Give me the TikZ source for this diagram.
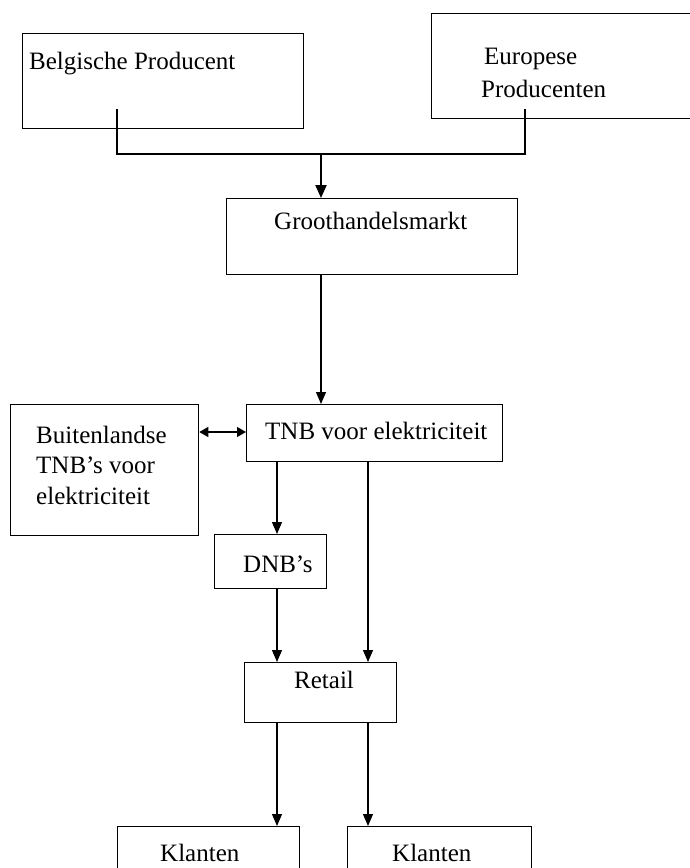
\documentclass[tikz,border=0pt]{standalone}
\usepackage{fontspec}
\setmainfont{Liberation Serif}
\usetikzlibrary{arrows.meta, positioning}
\tikzstyle{arrow} = [line width=1.1pt, -{Triangle[length=12pt, width=10pt]}]
\tikzstyle{conn} = [line width=1.2pt]
\tikzstyle{txt} = [anchor=base west, inner sep=0pt, font=\fontsize{25}{30.5}\selectfont]
\tikzset{
	box/.style = {rectangle, draw=black, line width=1.3pt, inner sep=0pt, anchor=north west},
}

\begin{document}
\begin{tikzpicture}[x=1pt, y=-1pt]
\useasboundingbox (0,0) rectangle (690,868);
\clip (0,0) rectangle (690,868);
%----------------------------------------------------------------------------
% Boxes
\node (belgProd) [box, minimum width=281pt, minimum height=95pt] at (22,33) {};
\node (euroProd) [box, minimum width=275pt, minimum height=105pt] at (431,13) {};
\node (grootMarkt) [box, minimum width=291pt, minimum height=76pt] at (226,198) {};
\node (tnbElek) [box, minimum width=256pt, minimum height=57pt] at (246,404) {};
\node (buitenTnb) [box, minimum width=188pt, minimum height=131pt] at (10,404) {};
\node (dnbs) [box, minimum width=112pt, minimum height=54pt] at (214,534) {};
\node (retail) [box, minimum width=152pt, minimum height=60pt] at (244,662) {};
\node (klanten1) [box, minimum width=182pt, minimum height=70pt] at (117,826) {};
\node (klanten2) [box, minimum width=184pt, minimum height=70pt] at (347,826) {};

%----------------------------------------------------------------------------
% Texts
\node (belgTxt) [txt] at (29,69) {Belgische Producent};
\node (euroTxt1) [txt] at (484,64) {Europese};
\node (euroTxt2) [txt] at (481,97) {Producenten};
\node (grootTxt) [txt] at (274,229) {Groothandelsmarkt};
\node (tnbTxt) [txt] at (265,439) {TNB voor elektriciteit};
\node (buitenTxt1) [txt] at (36,443) {Buitenlandse};
\node (buitenTxt2) [txt] at (36,473) {TNB’s voor};
\node (buitenTxt3) [txt] at (36,504) {elektriciteit};
\node (dnbTxt) [txt] at (243,572) {DNB’s};
\node (retailTxt) [txt] at (294,688) {Retail};
\node (klantTxt1) [txt] at (160,861) {Klanten};
\node (klantTxt2) [txt] at (392,861) {Klanten};

%----------------------------------------------------------------------------
% Lines
\coordinate (belgIn) at (117,109);
\coordinate (euroIn) at (525,109);
\coordinate (joinPt) at (321,154);
\coordinate (colL) at (277,0);
\coordinate (colR) at (368,0);

\draw [conn] (belgIn) |- (joinPt) -| (euroIn);
\draw [line width=2pt, -{Triangle[length=13pt, width=11pt]}] (joinPt) -- (grootMarkt.north -| joinPt);
\draw [arrow] (grootMarkt.south -| joinPt) -- (tnbElek.north -| joinPt);
\draw [line width=1.3pt, {Triangle[length=9pt, width=10pt]}-{Triangle[length=9pt, width=10pt]}] (buitenTnb.east |- 0,432) -- (tnbElek.west |- 0,432);

\draw [arrow] (tnbElek.south -| colL) -- (dnbs.north -| colL);
\draw [arrow] (tnbElek.south -| colR) -- (retail.north -| colR);
\draw [arrow] (dnbs.south -| colL) -- (retail.north -| colL);

\draw [arrow] (retail.south -| colL) -- (klanten1.north -| colL);
\draw [arrow] (retail.south -| colR) -- (klanten2.north -| colR);
\end{tikzpicture}
\end{document}
